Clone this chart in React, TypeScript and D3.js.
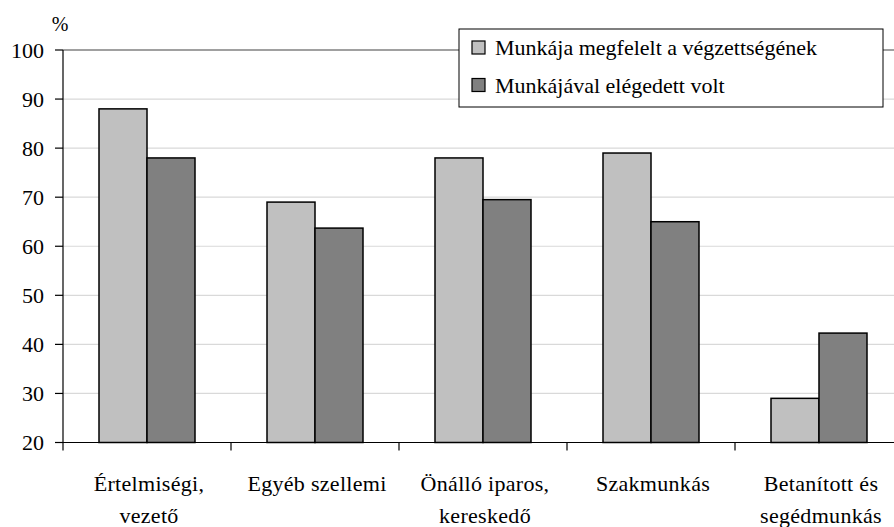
import React from "react";
import * as d3 from "d3";

const categories = [
  ["Értelmiségi,", "vezető"],
  ["Egyéb szellemi"],
  ["Önálló iparos,", "kereskedő"],
  ["Szakmunkás"],
  ["Betanított és", "segédmunkás"],
];
const seriesNames = ["Munkája megfelelt a végzettségének", "Munkájával elégedett volt"];
const seriesMatched = [88, 69, 78, 79, 29];
const seriesSatisfied = [78, 63.7, 69.5, 65, 42.3];
const yTicks = [20, 30, 40, 50, 60, 70, 80, 90, 100];
const colors = ["#c0c0c0", "#808080"];

const W = 894;
const H = 527;
const left = 63;
const catW = 168;
const top = 50;
const bottom = 442.5;
const FF = "Liberation Serif";
const css = `svg#chartsvg text, svg#chartsvg tspan { font-family: "Liberation Serif", Tinos, serif !important; }`;

export default function App() {
  const x = d3
    .scaleBand()
    .domain(d3.range(categories.length).map(String))
    .range([left, left + catW * categories.length])
    .paddingInner(0)
    .paddingOuter(0);
  const inner = d3.scaleBand().domain(["0", "1"]).range([0, x.bandwidth()]).paddingInner(0).paddingOuter(0.75);
  const y = d3.scaleLinear().domain([20, 100]).range([bottom, top]);
  const series = [seriesMatched, seriesSatisfied];
  const right = left + catW * categories.length;

  return (
    <svg id="chartsvg" width={W} height={H} style={{ position: "absolute", left: 0, top: 0, background: "#fff", fontFamily: FF }}>
      <style>{css}</style>
      {yTicks.map((t) => (
        <g key={t}>
          <line x1={left} x2={right} y1={y(t)} y2={y(t)} stroke={t === 100 ? "#808080" : t === 20 ? "none" : "#d9d9d9"} strokeWidth={t === 100 ? 1.5 : 1.2} />
          <line x1={left - 8} x2={left} y1={y(t)} y2={y(t)} stroke="#000" strokeWidth={1.2} />
          <text x={44} y={y(t) + 7.5} textAnchor="end" fontSize={22} fill="#000" fontFamily={FF} style={{ fontFamily: FF }}>{t}</text>
        </g>
      ))}
      <text x={60} y={31} textAnchor="middle" fontSize={20} fill="#000" fontFamily={FF} style={{ fontFamily: FF }}>%</text>
      {categories.map((c, i) =>
        series.map((s, j) => (
          <rect
            key={`${i}-${j}`}
            x={(x(String(i)) as number) + (inner(String(j)) as number)}
            y={y(s[i])}
            width={inner.bandwidth()}
            height={y(20) - y(s[i])}
            fill={colors[j]}
            stroke="#000"
            strokeWidth={1.5}
          />
        ))
      )}
      <line x1={left} x2={left} y1={top} y2={bottom} stroke="#000" strokeWidth={1.2} />
      <line x1={left} x2={right} y1={bottom} y2={bottom} stroke="#000" strokeWidth={1.2} />
      {d3.range(categories.length + 1).map((i) => (
        <line key={i} x1={left + i * catW} x2={left + i * catW} y1={bottom} y2={bottom + 8} stroke="#000" strokeWidth={1.2} />
      ))}
      {categories.map((c, i) => (
        <text key={i} textAnchor="middle" fontSize={22} fill="#000" letterSpacing={0.3} fontFamily={FF} style={{ fontFamily: FF }}>
          {c.map((line, k) => (
            <tspan key={k} x={(x(String(i)) as number) + x.bandwidth() / 2 + 2} y={491 + k * 32}>{line}</tspan>
          ))}
        </text>
      ))}
      <rect x={459} y={29} width={424} height={78} fill="#fff" stroke="#000" strokeWidth={1} />
      {seriesNames.map((n, j) => (
        <g key={n}>
          <rect x={472} y={41 + j * 37.5} width={13} height={13} fill={colors[j]} stroke="#000" strokeWidth={1.2} />
          <text x={495} y={55 + j * 37.5} fontSize={22} fill="#000" fontFamily={FF} style={{ fontFamily: FF }}>{n}</text>
        </g>
      ))}
    </svg>
  );
}
